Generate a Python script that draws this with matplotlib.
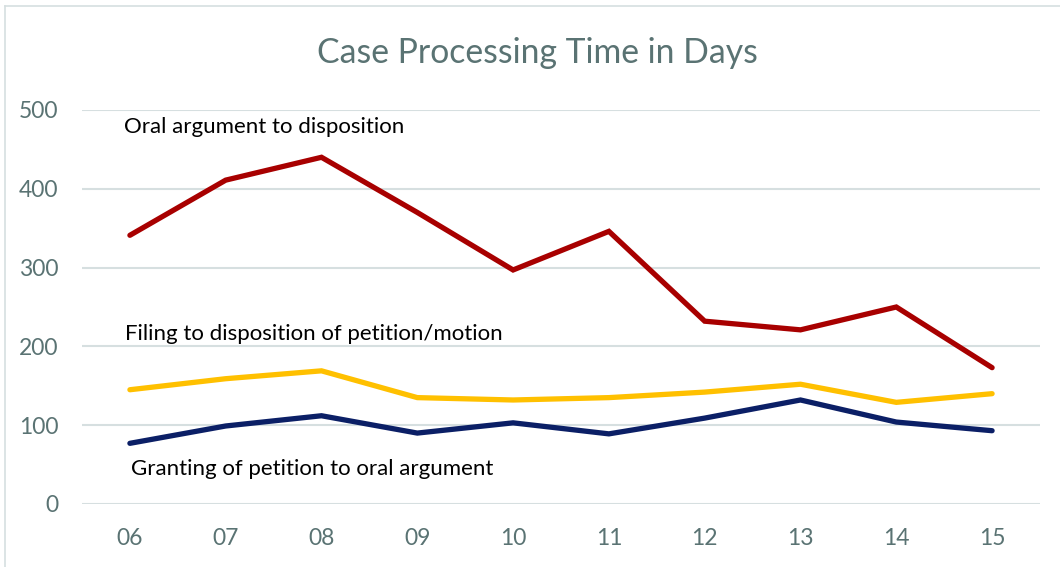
import matplotlib
matplotlib.use("Agg")
import matplotlib.pyplot as plt

# data
years = ["06", "07", "08", "09", "10", "11", "12", "13", "14", "15"]
oral_to_disposition = [341, 411, 440, 370, 297, 346, 232, 221, 250, 173]
filing_to_disposition = [145, 159, 169, 135, 132, 135, 142, 152, 129, 140]
granting_to_oral = [77, 99, 112, 90, 103, 89, 109, 132, 104, 93]

plt.rcParams['font.family'] = ['Lato', 'DejaVu Sans']

label_col = "#5A7373"
grid_col = "#D6DFE0"

fig = plt.figure(figsize=(10.6, 5.67), dpi=100)
ax = fig.add_axes([82 / 1060, 1 - 504 / 567, (1040 - 82) / 1060, (504 - 110) / 567])

x = range(len(years))
ax.plot(x, oral_to_disposition, color="#A80000", lw=3.8, solid_capstyle="round", solid_joinstyle="miter")
ax.plot(x, filing_to_disposition, color="#FFC000", lw=3.8, solid_capstyle="round", solid_joinstyle="miter")
ax.plot(x, granting_to_oral, color="#0B1F66", lw=3.8, solid_capstyle="round", solid_joinstyle="miter")

ax.set_xlim(-0.5, len(years) - 0.5)
ax.set_ylim(0, 500)
ax.set_yticks(range(0, 501, 100))
ax.set_xticks(list(x))
ax.set_xticklabels(years)
ax.grid(axis="y", color=grid_col, lw=1.5)
ax.set_axisbelow(True)
for s in ax.spines.values():
    s.set_visible(False)
ax.tick_params(length=0, labelsize=16.5, labelcolor=label_col)
ax.tick_params(axis="y", pad=17)
ax.tick_params(axis="x", pad=17)

# series labels
ax.text(-0.06, 478, "Oral argument to disposition", fontsize=16, va="center", ha="left")
ax.text(-0.05, 216, "Filing to disposition of petition/motion", fontsize=16, va="center", ha="left")
ax.text(0.01, 44, "Granting of petition to oral argument", fontsize=16, va="center", ha="left")

fig.text(537 / 1060, 1 - 53 / 567, "Case Processing Time in Days", fontsize=24.3,
         color=label_col, ha="center", va="center")

# chart-area border (top and left edges visible)
fig.add_artist(plt.Line2D([5 / 1060, 1], [1 - 6 / 567, 1 - 6 / 567], color=grid_col, lw=1.2))
fig.add_artist(plt.Line2D([5 / 1060, 5 / 1060], [0, 1 - 6 / 567], color=grid_col, lw=1.2))

fig.savefig("out.png", dpi=100)
